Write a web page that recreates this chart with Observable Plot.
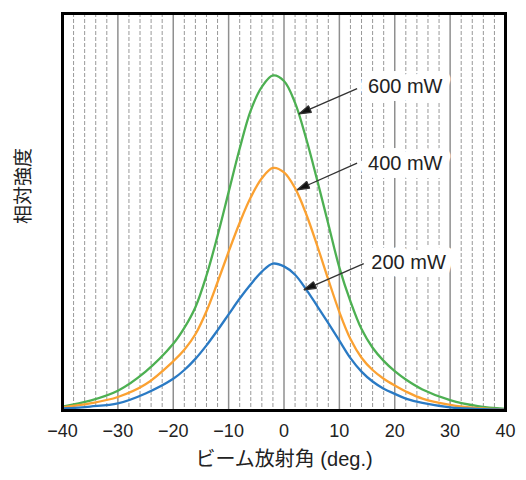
<!DOCTYPE html>
<html><head><meta charset="utf-8">
<script src="https://cdn.jsdelivr.net/npm/d3@7"></script>
<script src="https://cdn.jsdelivr.net/npm/@observablehq/plot@0.6"></script>
<style>body{margin:0;background:#fff;}</style>
</head><body><div id="chart"></div>
<script>
// Beam angle (deg.) sample positions
const angles   = [-40,-35,-30,-25,-20,-18,-16,-14,-12,-10,-8,-6,-4,-2,0,2,4,6,8,10,12,14,16,18,20,22,25,30,35,40];
// Relative intensity readings
const power600 = [1.0,2.5,5.0,9.8,16.8,20.8,26.0,34.0,44.0,55.0,66.0,75.6,81.5,84.4,83.0,77.5,68.5,58.0,47.0,36.0,27.5,20.5,15.8,12.5,9.9,7.8,5.3,2.6,1.1,0.4];
const power400 = [0.8,1.8,3.4,6.6,12.4,15.3,19.2,25.0,32.3,40.0,47.3,53.7,58.5,61.1,60.0,56.0,49.5,41.5,33.0,24.8,18.0,13.3,10.2,8.0,6.3,4.8,3.0,1.4,0.6,0.3];
const power200 = [0.5,1.0,1.8,4.3,8.0,10.2,13.0,16.4,20.2,24.2,28.2,31.8,35.0,37.0,36.3,34.2,30.5,26.3,22.0,17.6,13.2,9.8,7.3,5.5,4.2,3.0,1.9,0.8,0.4,0.2];
const seriesNames = ["600 mW","400 mW","200 mW"];
const seriesColors = ["#4db052","#fba131","#2a7ac4"];

const xTicks = [-40,-30,-20,-10,0,10,20,30,40];
const majorGrid = [-30,-20,-10,0,10,20,30];
const minorGrid = [-38,-36,-34,-32,-28,-26,-24,-22,-18,-16,-14,-12,-8,-6,-4,-2,2,4,6,8,12,14,16,18,22,24,26,28,32,34,36,38];

// annotations (data coordinates)
const labelX = [21.9, 21.9, 22.5];
const labelY = [81.6, 62.2, 37.3];
const arrowFromX = [13.2, 13.2, 14.4];
const arrowFromY = [81.1, 62.3, 37.0];
const arrowToX = [2.7, 2.4, 3.6];
const arrowToY = [74.7, 55.6, 30.4];

const xLabel = "ビーム放射角 (deg.)";
const yLabel = "相対強度";

const seriesValues = [power600, power400, power200];
const rows = [];
seriesNames.forEach((s, k) => angles.forEach((a, i) => rows.push({series: s, angle: a, value: seriesValues[k][i]})));
const annots = seriesNames.map((s, i) => ({text: s, lx: labelX[i], ly: labelY[i], x1: arrowFromX[i], y1: arrowFromY[i], x2: arrowToX[i], y2: arrowToY[i]}));

function filledArrow(color, context) {
  const ns = "http://www.w3.org/2000/svg";
  const m = document.createElementNS(ns, "marker");
  m.setAttribute("viewBox", "-13 -5 14 10");
  m.setAttribute("markerWidth", 14);
  m.setAttribute("markerHeight", 10);
  m.setAttribute("markerUnits", "userSpaceOnUse");
  m.setAttribute("refX", 0);
  m.setAttribute("refY", 0);
  m.setAttribute("orient", "auto");
  const p = document.createElementNS(ns, "path");
  p.setAttribute("d", "M0,0L-12,-3.6L-12,3.6Z");
  p.setAttribute("fill", "#111");
  m.appendChild(p);
  return m;
}

const chart = Plot.plot({
  width: 526, height: 480,
  marginLeft: 62, marginRight: 21, marginTop: 13, marginBottom: 70,
  style: {fontFamily: "'Liberation Sans', Arial, 'Noto Sans CJK JP', sans-serif", background: "white", color: "#222"},
  x: {domain: [-40, 40]},
  y: {domain: [0, 100], axis: null},
  color: {domain: seriesNames, range: seriesColors},
  marks: [
    Plot.ruleX(minorGrid, {stroke: "#999", strokeWidth: 1, strokeDasharray: "4,2"}),
    Plot.ruleX(majorGrid, {stroke: "#8f8f8f", strokeWidth: 1.5}),
    Plot.line(rows, {x: "angle", y: "value", z: "series", stroke: "series", strokeWidth: 2.3, curve: "catmull-rom"}),
    Plot.text(annots, {x: "lx", y: "ly", text: "text", fill: "#222", stroke: "white", strokeWidth: 16, fontSize: 20}),
    Plot.link(annots, {x1: "x1", y1: "y1", x2: "x2", y2: "y2", stroke: "#333", strokeWidth: 1.3, markerEnd: filledArrow}),
    Plot.axisX(xTicks, {tickSize: 0, tickPadding: 14, fontSize: 18, label: null}),
    Plot.text([xLabel], {frameAnchor: "bottom", dy: 55, fontSize: 20, fill: "#222"}),
    Plot.text([yLabel], {frameAnchor: "left", rotate: -90, dx: -39, dy: 12, fontSize: 19, fill: "#222"}),
    Plot.frame({stroke: "black", strokeWidth: 3})
  ]
});
document.getElementById("chart").appendChild(chart);
</script>
</body></html>
